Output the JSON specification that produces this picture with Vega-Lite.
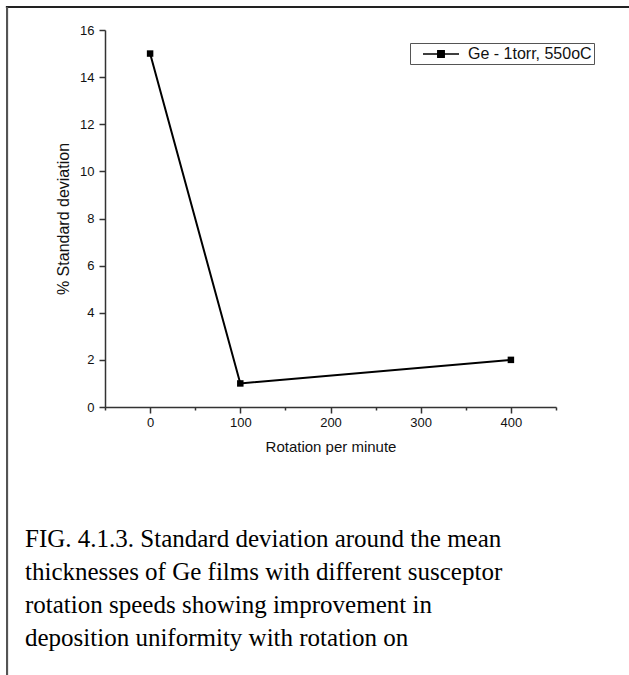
{
  "$schema": "https://vega.github.io/schema/vega-lite/v6.json",
  "autosize": "none",
  "width": 451,
  "height": 377,
  "padding": {"left": 105, "top": 30, "right": 73, "bottom": 268},
  "background": "white",
  "config": {
    "view": {"stroke": null},
    "font": "Liberation Sans",
    "axis": {
      "labelFont": "Liberation Sans",
      "labelFontSize": 13,
      "labelColor": "#111",
      "titleFont": "Liberation Sans",
      "titleFontSize": 15,
      "titleFontWeight": "normal",
      "titleColor": "#111",
      "domainColor": "#333",
      "domainWidth": 1.5,
      "tickColor": "#333",
      "tickWidth": 1.5,
      "grid": false
    }
  },
  "title": {
    "text": [
      "FIG. 4.1.3. Standard deviation around the mean",
      "thicknesses of Ge films with different susceptor",
      "rotation speeds showing improvement in",
      "deposition uniformity with rotation on"
    ],
    "orient": "bottom",
    "anchor": "start",
    "frame": "group",
    "dx": -80,
    "offset": -149,
    "font": "Liberation Serif",
    "fontSize": 25,
    "fontWeight": "normal",
    "lineHeight": 33,
    "color": "#000"
  },
  "data": {
    "values": [
      {"rpm": 0, "sd": 15, "series": "Ge - 1torr, 550oC"},
      {"rpm": 100, "sd": 1, "series": "Ge - 1torr, 550oC"},
      {"rpm": 400, "sd": 2, "series": "Ge - 1torr, 550oC"}
    ]
  },
  "layer": [
    {
      "mark": {"type": "rule", "stroke": "#222", "strokeWidth": 2, "clip": false},
      "encoding": {
        "x": {"datum": -159.8, "type": "quantitative"},
        "x2": {"datum": 531},
        "y": {"datum": 16.976, "type": "quantitative"}
      }
    },
    {
      "mark": {"type": "rule", "stroke": "#555", "strokeWidth": 2, "clip": false},
      "encoding": {
        "x": {"datum": -158.6, "type": "quantitative"},
        "y": {"datum": 16.976, "type": "quantitative"},
        "y2": {"datum": -11.37}
      }
    },
    {
      "mark": {
        "type": "line",
        "strokeWidth": 2,
        "point": {"shape": "square", "filled": true, "size": 42, "color": "black"}
      },
      "encoding": {
        "x": {
          "field": "rpm",
          "type": "quantitative",
          "title": "Rotation per minute",
          "scale": {"domain": [-50, 450], "nice": false, "zero": false},
          "axis": {
            "values": [-50, 0, 50, 100, 150, 200, 250, 300, 350, 400, 450],
            "labelExpr": "datum.value % 100 === 0 ? datum.label : ''",
            "tickSize": {"condition": {"test": "datum.value % 100 === 0", "value": 6}, "value": 3},
            "labelPadding": 3,
            "titlePadding": 10
          }
        },
        "y": {
          "field": "sd",
          "type": "quantitative",
          "title": "% Standard deviation",
          "scale": {"domain": [0, 16], "nice": false},
          "axis": {
            "values": [0, 1, 2, 3, 4, 5, 6, 7, 8, 9, 10, 11, 12, 13, 14, 15, 16],
            "labelExpr": "datum.value % 2 === 0 ? datum.label : ''",
            "tickSize": {"condition": {"test": "datum.value % 2 === 0", "value": 6}, "value": 4},
            "labelPadding": 5,
            "titlePadding": 8,
            "titleFontSize": 16
          }
        },
        "color": {
          "field": "series",
          "type": "nominal",
          "scale": {"range": ["black"]},
          "legend": {
            "title": null,
            "orient": "none",
            "legendX": 305,
            "legendY": 13,
            "strokeColor": "#555",
            "padding": 2,
            "symbolType": "M0.25,0H4.75M2.1,-0.4H2.9V0.4H2.1Z",
            "symbolSize": 256,
            "symbolStrokeWidth": 1.5,
            "symbolFillColor": "black",
            "symbolStrokeColor": "black",
            "labelFont": "Liberation Sans",
            "labelFontSize": 16,
            "labelColor": "#111",
            "labelOffset": 38
          }
        }
      }
    }
  ]
}
